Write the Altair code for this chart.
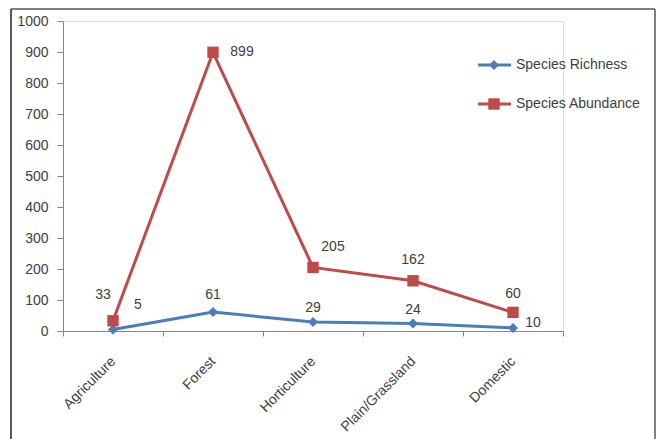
import altair as alt
import pandas as pd

# ---------------- data ----------------
categories = ["Agriculture", "Forest", "Horticulture", "Plain/Grassland", "Domestic"]
richness = [5, 61, 29, 24, 10]
abundance = [33, 899, 205, 162, 60]
series_names = ["Species Richness", "Species Abundance"]
y_ticks = [0, 100, 200, 300, 400, 500, 600, 700, 800, 900, 1000]

# ---------------- layout / style ----------------
colors = ["#4A7EBB", "#BE4B48"]
shapes = ["diamond", "square"]
marker_sizes = [100, 130]
# pixel offsets of each data label from its point (layout only)
label_offsets = [
    [(25, -24), (0, -17), (0, -14), (0, -14), (20, -5)],
    [(-10, -26), (29, 0), (20, -20), (0, -21), (0, -18)],
]
FONT = "Liberation Sans"
TEXT_COLOR = "#404040"

rows = []
for s, vals in zip(series_names, [richness, abundance]):
    for c, v in zip(categories, vals):
        rows.append({"category": c, "series": s, "value": v})
df = pd.DataFrame(rows)

x_enc = alt.X(
    "category:N",
    sort=categories,
    bandPosition=0.5,
    scale=alt.Scale(type="band", domain=categories, paddingInner=0, paddingOuter=0),
    axis=alt.Axis(
        title=None, labelAngle=-45, labelAlign="right", labelBaseline="middle",
        tickBand="extent", tickSize=5, labelPadding=23, grid=False,
        domainColor="#868686", tickColor="#868686",
        labelFont=FONT, labelFontSize=14, labelColor=TEXT_COLOR,
    ),
)
y_enc = alt.Y(
    "value:Q",
    scale=alt.Scale(domain=[0, 1000], nice=False, zero=True),
    axis=alt.Axis(
        title=None, values=y_ticks, format="d", grid=False, tickSize=6, labelPadding=9,
        domainColor="#868686", tickColor="#868686",
        labelFont=FONT, labelFontSize=14, labelColor=TEXT_COLOR,
    ),
)

layers = []
for i, s in enumerate(series_names):
    base = alt.Chart(df).transform_filter(alt.datum.series == s)
    layers.append(
        base.mark_line(color=colors[i], strokeWidth=3).encode(x=x_enc, y=y_enc)
    )
for i, s in enumerate(series_names):
    base = alt.Chart(df).transform_filter(alt.datum.series == s)
    layers.append(
        base.mark_point(shape=shapes[i], filled=True, opacity=1, color=colors[i],
                        size=marker_sizes[i]).encode(x=x_enc, y=y_enc)
    )
    for j, c in enumerate(categories):
        dx, dy = label_offsets[i][j]
        layers.append(
            alt.Chart(df)
            .transform_filter((alt.datum.series == s) & (alt.datum.category == c))
            .mark_text(dx=dx, dy=dy, font=FONT, fontSize=14, color=TEXT_COLOR)
            .encode(x=x_enc, y=y_enc, text="value:Q")
        )

# legend (drawn manually: line with marker + label)
for i, s in enumerate(series_names):
    ldf = pd.DataFrame({"series": [s]})
    ly = 44 + 39 * i
    layers.append(
        alt.Chart(ldf).mark_rule(color=colors[i], strokeWidth=3).encode(
            x=alt.value(415), x2=alt.value(448), y=alt.value(ly))
    )
    layers.append(
        alt.Chart(ldf).mark_point(shape=shapes[i], filled=True, opacity=1,
                                  color=colors[i], size=marker_sizes[i]).encode(
            x=alt.value(431), y=alt.value(ly))
    )
    layers.append(
        alt.Chart(ldf).mark_text(align="left", baseline="middle", font=FONT,
                                 fontSize=14, color=TEXT_COLOR).encode(
            x=alt.value(453), y=alt.value(ly), text="series:N")
    )

# outer border of the chart area
bdf = pd.DataFrame({"b": [0]})
layers.append(alt.Chart(bdf).mark_rule(color="#7f7f7f", strokeWidth=2).encode(
    x=alt.value(-52), x2=alt.value(592), y=alt.value(-12)))
layers.append(alt.Chart(bdf).mark_rule(color="#7f7f7f", strokeWidth=2).encode(
    x=alt.value(592), y=alt.value(-12), y2=alt.value(430)))
layers.append(alt.Chart(bdf).mark_rule(color="#222222", strokeWidth=1.5).encode(
    x=alt.value(-52), y=alt.value(-12), y2=alt.value(430)))

chart = (
    alt.layer(*layers)
    .properties(
        width=500, height=310,
        autosize=alt.AutoSizeParams(type="none"),
        padding={"left": 63, "top": 21, "right": 99, "bottom": 108},
    )
    .configure_view(stroke=None)
    .configure(background="white")
)

chart.save("out.html", embed_options={"renderer": "svg", "actions": False})
